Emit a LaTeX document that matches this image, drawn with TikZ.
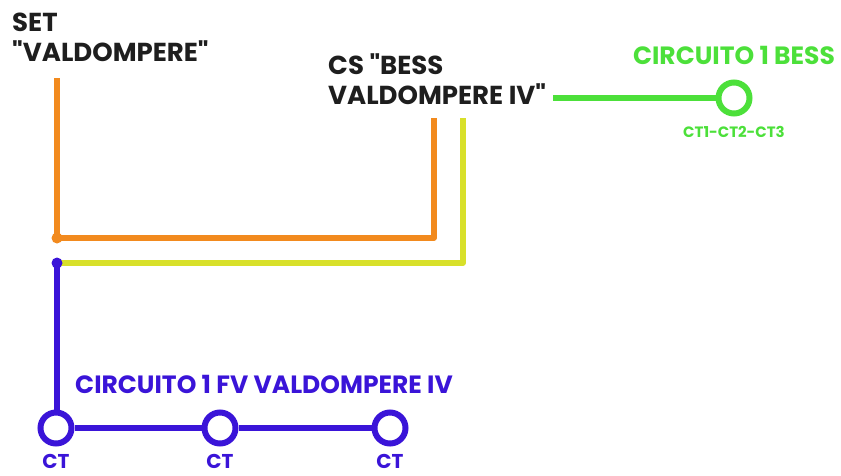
\documentclass[tikz,border=0pt]{standalone}
\usepackage{fontspec}
\setmainfont{Poppins}
\usetikzlibrary{positioning}

\definecolor{txtgray}{HTML}{1E1E1E}
\definecolor{setorange}{HTML}{F28A1E}
\definecolor{csyellow}{HTML}{D8E02A}
\definecolor{fvblue}{HTML}{3A14D8}
\definecolor{bessgreen}{HTML}{4CE03A}

\begin{document}
\begin{tikzpicture}[
  x=1pt, y=-1pt,
  lbl/.style={font=\bfseries\fontsize{26}{30}\selectfont, text=txtgray,
              align=left, inner sep=0pt},
  wire/.style={line width=5.5pt, line join=round},
  ct/.style={circle, draw, line width=6pt, minimum size=31pt, inner sep=0pt, fill=white},
  ctlab/.style={font=\bfseries\fontsize{20}{24}\selectfont, inner sep=0pt},
  circlab/.style={font=\bfseries\fontsize{25}{30}\selectfont, inner sep=0pt},
  jn/.style={circle, inner sep=0pt, minimum size=11pt}
]
\useasboundingbox (0,0) rectangle (841,475);

\node[lbl, anchor=north west] (set) at (12,13) {SET\\\textquotedbl VALDOMPERE\textquotedbl};
\node[lbl, anchor=north west] (cs) at (328,53) {CS \textquotedbl BESS\\VALDOMPERE IV\textquotedbl};

\coordinate (so) at (57,78);
\coordinate (jo) at (57,238);
\coordinate (jb) at (57,263);
\coordinate (oc) at (434,238);
\coordinate (ot) at (434,118);
\coordinate (yc) at (463,263);
\coordinate (yt) at (463,118);
\coordinate (gs) at (553,98);

\node[ct, draw=fvblue] (ct1) at (56,428) {};
\node[ct, draw=fvblue] (ct2) at (220,428) {};
\node[ct, draw=fvblue] (ct3) at (390,428) {};
\node[ct, draw=bessgreen] (bess) at (734,98) {};

\draw[wire, setorange] (so) -- (jo) -- (oc) -- (ot);
\draw[wire, csyellow] (jb) -- (yc) -- (yt);
\draw[wire, fvblue] (jb) -- (jb |- ct1.north);
\draw[wire, fvblue] (ct1) -- (ct2);
\draw[wire, fvblue] (ct2) -- (ct3);
\draw[wire, bessgreen] (gs) -- (bess);

\node[jn, fill=setorange] at (jo) {};
\node[jn, fill=fvblue] at (jb) {};

\node[ctlab, text=fvblue, below=8pt of ct1] {CT};
\node[ctlab, text=fvblue, below=8pt of ct2] {CT};
\node[ctlab, text=fvblue, below=8pt of ct3] {CT};
\node[circlab, text=fvblue, anchor=west] (fv) at (75,384) {CIRCUITO 1 FV VALDOMPERE IV};

\node[circlab, text=bessgreen, above=15pt of bess] (bt) {CIRCUITO 1 BESS};
\node[text=bessgreen, font=\bfseries\fontsize{15}{18}\selectfont, inner sep=0pt,
      below=10pt of bess] (bc) {CT1-CT2-CT3};
\end{tikzpicture}
\end{document}
